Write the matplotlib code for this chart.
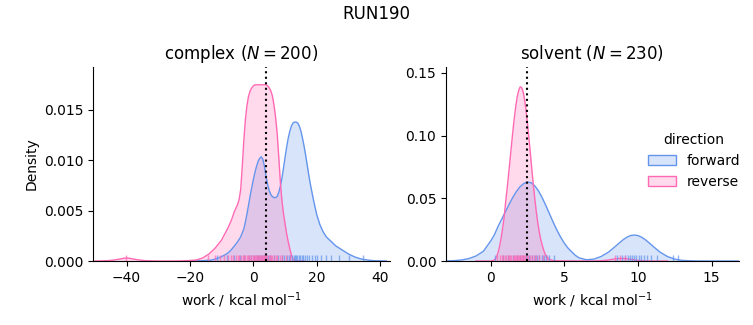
import matplotlib
matplotlib.use('Agg')
import matplotlib.pyplot as plt
import matplotlib.patches as mpatches
import matplotlib.transforms as mtransforms

run_name = 'RUN190'
directions = ['forward', 'reverse']
colors = {'forward': 'cornflowerblue', 'reverse': 'hotpink'}

# complex leg: density curves
cx_fwd = [-20, -16, -13, -11, -9, -8, -7, -6, -5, -4, -3, -2.5, -2, -1.5, -1, -0.5, 0, 0.5, 1, 1.5,
          2, 2.5, 3, 3.5, 4, 4.5, 5, 5.5, 6, 6.5, 7, 7.5, 8, 8.5, 9, 9.5, 10, 10.5, 11, 11.5, 12,
          12.5, 13, 13.5, 14, 14.5, 15, 15.5, 16, 16.5, 17, 17.5, 18, 18.5, 19, 19.5, 20, 21, 22,
          23, 24, 25, 26, 28, 30, 32, 34, 36, 38, 42]
cd_fwd = [0, 0.00003, 0.0001, 0.0003, 0.0006, 0.0008, 0.0011, 0.0015, 0.0019, 0.0024, 0.0032,
          0.0039, 0.0047, 0.0056, 0.0065, 0.0073, 0.0081, 0.0088, 0.0094, 0.0099, 0.0102, 0.01035,
          0.0101, 0.0094, 0.0084, 0.0076, 0.0070, 0.0066, 0.0064, 0.0063, 0.0063, 0.0064, 0.0068,
          0.0074, 0.0082, 0.0092, 0.0103, 0.0113, 0.0122, 0.0129, 0.0134, 0.0137, 0.0138, 0.0138,
          0.0137, 0.0134, 0.0129, 0.0122, 0.0114, 0.0105, 0.0095, 0.0085, 0.0076, 0.0068, 0.0060,
          0.0053, 0.0046, 0.0036, 0.0029, 0.0024, 0.0021, 0.0018, 0.0015, 0.0011, 0.0007, 0.0004,
          0.0002, 0.0001, 0.00003, 0]
cx_rev = [-50, -46, -44, -42, -41, -40, -39, -38, -36, -34, -30, -25, -22, -20, -18, -16, -14, -12,
          -10, -9, -8, -7, -6, -5, -4.5, -4, -3.5, -3, -2.5, -2, -1.5, -1, -0.5, 0, 0.5, 1, 2, 3,
          4, 4.5, 5, 5.5, 6, 6.5, 7, 7.5, 8, 8.5, 9, 9.5, 10, 10.5, 11, 11.5, 12, 12.5, 13, 14, 16]
cd_rev = [0, 0.00003, 0.0001, 0.0002, 0.00027, 0.0003, 0.00027, 0.0002, 0.0001, 0.00003, 0, 0,
          0.00002, 0.00005, 0.0001, 0.0003, 0.0007, 0.0013, 0.0021, 0.0027, 0.0033, 0.0040, 0.0049,
          0.0056, 0.0061, 0.0071, 0.0094, 0.0120, 0.0141, 0.0155, 0.0164, 0.0169, 0.0172, 0.0174,
          0.0175, 0.0175, 0.0175, 0.0175, 0.0175, 0.0174, 0.0172, 0.0169, 0.0164, 0.0155, 0.0143,
          0.0127, 0.0104, 0.0079, 0.0060, 0.0047, 0.0037, 0.0027, 0.0019, 0.0012, 0.0006, 0.0002,
          0.00005, 0, 0]

# solvent leg
sx_fwd = [-3, -2.5, -2, -1.5, -1, -0.5, 0, 0.25, 0.5, 0.75, 1, 1.25, 1.5, 1.75, 2, 2.25, 2.5, 2.75,
          3, 3.25, 3.5, 3.75, 4, 4.25, 4.5, 4.75, 5, 5.25, 5.5, 5.75, 6, 6.5, 7, 7.5, 8, 8.25, 8.5,
          8.75, 9, 9.25, 9.5, 9.75, 10, 10.25, 10.5, 10.75, 11, 11.25, 11.5, 12, 12.5, 13, 13.5,
          14, 15, 17]
sd_fwd = [0.0001, 0.0003, 0.0008, 0.0019, 0.0040, 0.0078, 0.0160, 0.0210, 0.0277, 0.0335, 0.0394,
          0.0453, 0.0508, 0.0556, 0.0594, 0.0619, 0.0630, 0.0624, 0.0599, 0.0558, 0.0504, 0.0441,
          0.0374, 0.0308, 0.0245, 0.0190, 0.0142, 0.0103, 0.0073, 0.0045, 0.0025, 0.0010, 0.0015,
          0.0036, 0.0071, 0.0095, 0.0120, 0.0146, 0.0170, 0.0190, 0.0203, 0.0207, 0.0203, 0.0190,
          0.0170, 0.0146, 0.0120, 0.0095, 0.0071, 0.0036, 0.0015, 0.0005, 0.0002, 0.00005, 0, 0]
sx_rev = [-1, 0, 0.2, 0.3, 0.4, 0.5, 0.6, 0.7, 0.8, 0.9, 1.0, 1.1, 1.2, 1.3, 1.4, 1.5, 1.6, 1.7,
          1.8, 1.9, 2.0, 2.1, 2.2, 2.3, 2.4, 2.5, 2.6, 2.7, 2.8, 2.9, 3.0, 3.1, 3.2, 3.3, 3.4, 3.5,
          3.6, 3.7, 3.8, 3.9, 4.0, 4.2, 4.5, 5, 6, 7, 7.5, 8, 8.4, 8.8, 9.2, 9.6, 10, 10.5, 11, 12]
sd_rev = [0, 0, 0.0005, 0.0015, 0.0035, 0.0068, 0.0118, 0.0180, 0.0255, 0.0340, 0.0455, 0.0564,
          0.0677, 0.0795, 0.0915, 0.1032, 0.1141, 0.1235, 0.1311, 0.1362, 0.1389, 0.1384, 0.1350,
          0.1287, 0.1200, 0.1093, 0.0973, 0.0848, 0.0721, 0.0600, 0.0488, 0.0388, 0.0301, 0.0229,
          0.0170, 0.0124, 0.0085, 0.0055, 0.0033, 0.0020, 0.0012, 0.0005, 0.0002, 0.0001, 0, 0,
          0.0002, 0.0008, 0.0016, 0.0021, 0.0019, 0.0012, 0.0005, 0.0001, 0, 0]

# individual work values (rug)
c_rug_fwd = [-11.4, -8.4, -6.1, -4.2, -2.9, -1.5, -0.6, 0.3, 1.0, 1.6, 2.2, 2.7, 3.3, 3.9, 4.6, 5.4,
             6.5, 7.8, 8.9, 9.8, 10.5, 11.1, 11.7, 12.2, 12.7, 13.1, 13.5, 13.9, 14.3, 14.8, 15.2,
             15.7, 16.3, 16.9, 17.6, 18.4, 19.3, 20.2, 21.4, 22.8, 24.5, 26.9, 30.2, 34.6]
c_rug_rev = [-40.3, -14.2, -12.1, -10.4, -9.2, -8.1, -7.0, -6.3, -5.5, -4.9, -4.4, -3.8, -3.3, -2.9,
             -2.5, -2.1, -1.7, -1.3, -0.9, -0.6, -0.2, 0.1, 0.4, 0.8, 1.1, 1.4, 1.7, 2.0, 2.3, 2.6,
             2.9, 3.2, 3.5, 3.8, 4.1, 4.4, 4.8, 5.2, 5.6, 6.0, 6.5, 7.0, 7.6, 8.3, 9.1, 10.2, 11.5]
s_rug_fwd = [0.3, 0.8, 1.2, 1.5, 1.8, 2.0, 2.2, 2.4, 2.6, 2.8, 3.0, 3.15, 3.3, 3.45, 3.6, 3.75, 3.95,
             4.3, 8.6, 8.9, 9.1, 9.3, 9.45, 9.6, 9.75, 9.9, 10.05, 10.2, 10.4, 10.6, 10.9, 11.3,
             12.4, 12.7]
s_rug_rev = [0.45, 0.62, 0.75, 0.86, 0.97, 1.06, 1.15, 1.24, 1.32, 1.40, 1.48, 1.55, 1.62, 1.69,
             1.76, 1.83, 1.90, 1.97, 2.04, 2.11, 2.19, 2.27, 2.36, 2.45, 2.55, 2.66, 2.78, 2.92,
             3.08, 3.28, 3.55, 3.85, 8.45, 8.8, 9.1]

phases = ['complex', 'solvent']
n_samples = [200, 230]
free_energy = [4.1, 2.47]   # dotted line

curves = {
    'complex': {'forward': (cx_fwd, cd_fwd, c_rug_fwd), 'reverse': (cx_rev, cd_rev, c_rug_rev)},
    'solvent': {'forward': (sx_fwd, sd_fwd, s_rug_fwd), 'reverse': (sx_rev, sd_rev, s_rug_rev)},
}
xlims = [(-50.6, 43.1), (-3.04, 16.86)]
ylims = [(0, 0.01927), (0, 0.1548)]
yformats = ['{:.3f}', '{:.2f}']

fig = plt.figure(figsize=(7.53, 3.25), dpi=100)
axes = [fig.add_axes([0.1235, 0.1969, 0.3944, 0.597]),
        fig.add_axes([0.5923, 0.1969, 0.389, 0.597])]

for i, ax in enumerate(axes):
    phase = phases[i]
    trans = mtransforms.blended_transform_factory(ax.transData, ax.transAxes)
    for d in directions:
        x, y, rug = curves[phase][d]
        ax.fill_between(x, y, 0, color=colors[d], alpha=0.25, linewidth=0)
        ax.plot(x, y, color=colors[d], lw=1)
    for d in directions:
        rug = curves[phase][d][2]
        ax.vlines(rug, 0, 0.03, transform=trans, color=colors[d], lw=1, alpha=0.7)
    ax.axvline(free_energy[i], color='black', ls=':', lw=1.5)
    ax.set_xlim(*xlims[i])
    ax.set_ylim(*ylims[i])
    ax.yaxis.set_major_formatter(plt.FuncFormatter(lambda v, p, f=yformats[i]: f.format(v)))
    ax.spines['top'].set_visible(False)
    ax.spines['right'].set_visible(False)
    ax.set_title(phase + r' ($N = %d$)' % n_samples[i], fontsize=12)
    ax.set_xlabel(r'work / kcal mol$^{-1}$')

axes[0].set_ylabel('Density')
axes[0].set_xticks([-40, -20, 0, 20, 40])
axes[1].set_xticks([0, 5, 10, 15])

handles = [mpatches.Patch(facecolor=matplotlib.colors.to_rgba(colors[d], 0.25),
                          edgecolor=colors[d], label=d) for d in directions]
fig.legend(handles=handles, title='direction', loc='center right',
           bbox_to_anchor=(1.0, 0.505), frameon=False)
fig.suptitle(run_name, fontsize=12, y=0.985)

fig.savefig('out.png', dpi=100)
